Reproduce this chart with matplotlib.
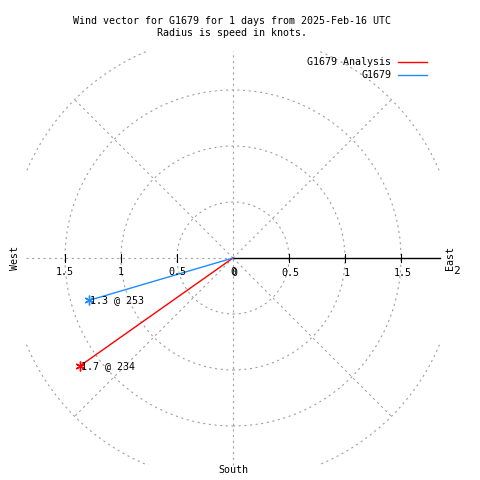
import numpy as np
import matplotlib
matplotlib.use("Agg")
import matplotlib.pyplot as plt
from matplotlib.patches import Circle, Rectangle

plt.rcParams["font.family"] = "DejaVu Sans Mono"
plt.rcParams["font.size"] = 7.2

# data
series = ["G1679 Analysis", "G1679"]
speeds = [1.67, 1.34]        # knots
directions = [234.8, 253.6]  # degrees, clockwise from north (labels truncate)
colors = ["#ff0000", "#1e8cff"]
rings = [0.5, 1.0, 1.5, 2.0]
tick_vals = [0.5, 1.0, 1.5]
title = "Wind vector for G1679 for 1 days from 2025-Feb-16 UTC\nRadius is speed in knots."

box = 1.85          # half-width of the plot square in knots
px = 112.0          # pixels per knot
cx, cy = 233, 258   # center in pixels (from top left)

fig = plt.figure(figsize=(4.8, 4.8), dpi=100)
ax = fig.add_axes([0, 0, 1, 1])
ax.set_xlim(-cx / px, (480 - cx) / px)
ax.set_ylim(-(480 - cy) / px, cy / px)
ax.axis("off")

dash = (1.9, 3.2)
grid = dict(color="#a0a0a0", lw=0.8, dashes=dash)
clip = Rectangle((-box, -box), 2 * box, 2 * box, transform=ax.transData, fill=False, visible=False)
ax.add_patch(clip)
for r in rings:
    c = Circle((0, 0), r, fill=False, ec="#a0a0a0", lw=0.8, ls=(0, dash))
    ax.add_patch(c)
    c.set_clip_path(clip)
for a in [45, 135, 225, 315]:
    t = np.radians(a)
    ax.plot([0, 2 * np.cos(t)], [0, 2 * np.sin(t)], **grid)
ax.plot([0, 0], [-box, box], **grid)
ax.plot([-box, 0], [0, 0], **grid)
ax.plot([0, box], [0, 0], color="black", lw=1)

tk = 4 / px
for v in tick_vals:
    ax.plot([v, v], [-tk, tk], color="black", lw=0.8)
    ax.plot([-v, -v], [-tk, tk], color="black", lw=0.8)
ly = -14 / px
for v in [0] + tick_vals:
    s = f"{v:g}"
    ax.text(-v, ly, s, ha="center", va="center")
    ax.text(v + 1.5 / px, ly - 1 / px, s, ha="center", va="center")

ax.text(-218 / px, 0, "West", rotation=90, ha="center", va="center")
ax.text(217 / px, 0, "East", rotation=90, ha="center", va="center")
ax.text(224 / px, -13 / px, "2", ha="center", va="center", fontsize=8)
ax.text(0, -212 / px, "South", ha="center", va="center")

for name, s, d, col in zip(series, speeds, directions, colors):
    t = np.radians(d)
    x, y = s * np.sin(t), s * np.cos(t)
    ax.plot([0, x], [0, y], color=col, lw=1)
    ax.plot([x], [y], marker=(6, 2, 0), ms=7, color=col, mew=1)
    ax.text(x + 1 / px, y, f"{s:.1f} @ {int(d)}", ha="left", va="center")

# legend
for i, (name, col) in enumerate(zip(series, colors)):
    yy = 1 - (62 + 13 * i) / 480
    ax.text(391 / 480, yy, name, transform=ax.transAxes, ha="right", va="center")
    ax.plot([398 / 480, 427 / 480], [yy, yy], transform=ax.transAxes, color=col, lw=1)

fig.text(232 / 480, 1 - 26.5 / 480, title, ha="center", va="center", linespacing=1.25)

fig.savefig("out.png", dpi=100)
